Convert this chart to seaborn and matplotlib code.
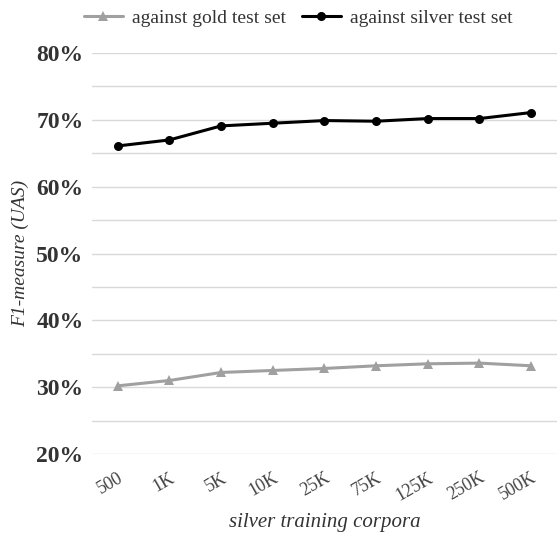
import matplotlib.pyplot as plt
import pandas as pd
import seaborn as sns

corpora = ['500', '1K', '5K', '10K', '25K', '75K', '125K', '250K', '500K']
gold = [30.2, 31.0, 32.2, 32.5, 32.8, 33.2, 33.5, 33.6, 33.2]
silver = [66.1, 67.0, 69.1, 69.5, 69.9, 69.8, 70.2, 70.2, 71.1]

df = pd.DataFrame({
    'corpus': list(range(len(corpora))) * 2,
    'score': gold + silver,
    'series': ['against gold test set'] * len(gold) + ['against silver test set'] * len(silver),
})

sns.set_style('white')
plt.rcParams['font.family'] = ['Liberation Serif', 'DejaVu Serif']

fig = plt.figure(figsize=(5.57, 5.36), dpi=100)
ax = fig.add_axes([0.165, 0.153, 0.835, 0.748])

sns.lineplot(data=df, x='corpus', y='score', hue='series', style='series',
             palette=['#a0a0a0', '#000000'], markers=['^', 'o'], dashes=False,
             markersize=6.5, markeredgewidth=0, linewidth=2.2, ax=ax)

ax.set_xlim(-0.5, len(corpora) - 0.5)
ax.set_ylim(20, 80)
ax.set_yticks(range(20, 81, 5))
ax.set_yticklabels([f'{v}%' if v % 10 == 0 else '' for v in range(20, 81, 5)],
                   fontsize=17, fontweight='bold', color='#333333')
ax.set_xticks(range(len(corpora)))
ax.set_xticklabels(corpora, rotation=30, fontsize=13, color='#444444',
                   ha='right', rotation_mode='anchor')
ax.tick_params(axis='y', length=0, pad=6)
ax.tick_params(axis='x', length=0, pad=11)
ax.grid(axis='y', color='#d9d9d9', linewidth=1)
for s in ax.spines.values():
    s.set_visible(False)

ax.set_xlabel('silver training corpora', fontsize=15, fontstyle='italic', color='#333333', va='center')
ax.xaxis.set_label_coords(0.5, -0.172)
ax.set_ylabel('F1-measure (UAS)', fontsize=14, fontstyle='italic', color='#333333', labelpad=5)

ax.legend(loc='center', bbox_to_anchor=(0.444, 1.087), ncol=2, frameon=False,
          fontsize=14, handlelength=2.0, handletextpad=0.5, columnspacing=0.8,
          labelcolor='#333333')

fig.savefig('out.png', dpi=100)
